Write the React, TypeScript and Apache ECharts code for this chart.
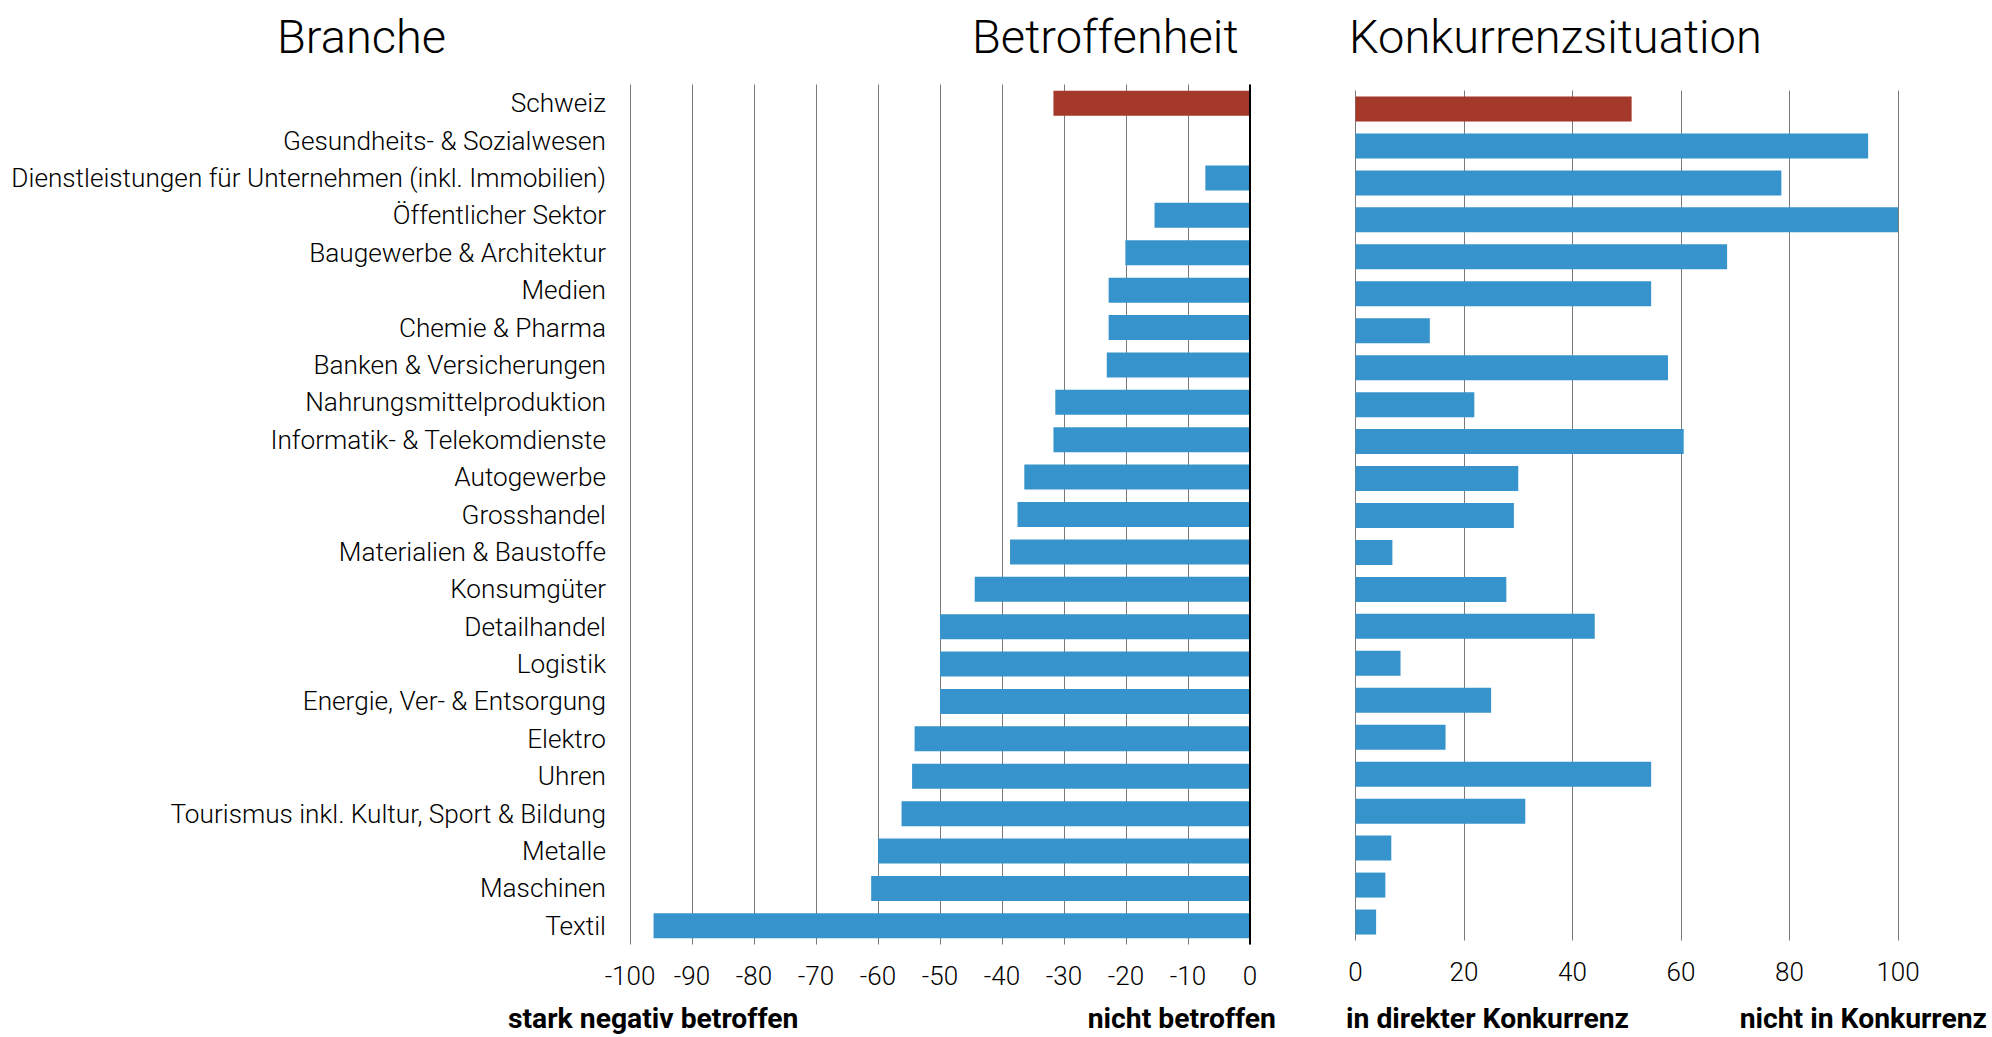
import React, { useEffect, useRef } from "react";
import * as echarts from "echarts";

const categories = [
  "Schweiz",
  "Gesundheits- & Sozialwesen",
  "Dienstleistungen für Unternehmen (inkl. Immobilien)",
  "Öffentlicher Sektor",
  "Baugewerbe & Architektur",
  "Medien",
  "Chemie & Pharma",
  "Banken & Versicherungen",
  "Nahrungsmittelproduktion",
  "Informatik- & Telekomdienste",
  "Autogewerbe",
  "Grosshandel",
  "Materialien & Baustoffe",
  "Konsumgüter",
  "Detailhandel",
  "Logistik",
  "Energie, Ver- & Entsorgung",
  "Elektro",
  "Uhren",
  "Tourismus inkl. Kultur, Sport & Bildung",
  "Metalle",
  "Maschinen",
  "Textil",
];

const betroffenheit = [
  -31.7, 0, -7.2, -15.4, -20.1, -22.8, -22.8, -23.1, -31.4, -31.7, -36.4, -37.5,
  -38.7, -44.4, -50, -50, -50, -54.1, -54.5, -56.2, -60.0, -61.1, -96.2,
];

const konkurrenz = [
  50.9, 94.5, 78.5, 100, 68.5, 54.5, 13.7, 57.6, 21.9, 60.5, 30.0, 29.2, 6.8,
  27.8, 44.1, 8.3, 25.0, 16.6, 54.5, 31.3, 6.6, 5.5, 3.8,
];

const highlighted = ["Schweiz"];

const titles = ["Branche", "Betroffenheit", "Konkurrenzsituation"];
const footLabels = [
  "stark negativ betroffen",
  "nicht betroffen",
  "in direkter Konkurrenz",
  "nicht in Konkurrenz",
];

const BLUE = "#3793cb";
const RED = "#a43829";
const GRIDLINE = "#7a7a7a";
const FONT = "Roboto";

function buildData(values: number[]) {
  return values.map((v, i) => ({
    value: v,
    itemStyle: { color: highlighted.includes(categories[i]) ? RED : BLUE },
  }));
}

export default function App() {
  const ref = useRef<HTMLDivElement>(null);

  useEffect(() => {
    if (!ref.current) return;
    const chart = echarts.init(ref.current, undefined, { renderer: "svg" });

    const titleStyle = { fontSize: 47, fontFamily: FONT, fill: "#000", fontWeight: 300 as any };
    const footStyle = { fontSize: 28.3, fontFamily: FONT, fill: "#000", fontWeight: "bold" as any };
    const tickLabel = { fontSize: 26, color: "#000", margin: 18, fontFamily: FONT, fontWeight: 300 as any };

    chart.setOption({
      animation: false,
      backgroundColor: "#fff",
      textStyle: { fontFamily: FONT },
      grid: [
        { left: 630, width: 620, top: 84.5, height: 860, containLabel: false, outerBoundsMode: "none" },
        { left: 1355.5, width: 542.5, top: 90.5, height: 850, containLabel: false, outerBoundsMode: "none" },
      ],
      xAxis: [
        {
          type: "value",
          gridIndex: 0,
          min: -100,
          max: 0,
          interval: 10,
          axisLine: { show: false },
          axisTick: { show: false },
          splitLine: { show: true, lineStyle: { color: GRIDLINE, width: 1 } },
          axisLabel: tickLabel,
        },
        {
          type: "value",
          gridIndex: 1,
          min: 0,
          max: 100,
          interval: 20,
          axisLine: { show: false },
          axisTick: { show: false },
          splitLine: { show: true, lineStyle: { color: GRIDLINE, width: 1 } },
          axisLabel: tickLabel,
        },
      ],
      yAxis: [
        {
          type: "category",
          gridIndex: 0,
          data: categories,
          inverse: true,
          axisLine: { show: false },
          axisTick: { show: false },
          splitLine: { show: false },
          axisLabel: { fontSize: 26.2, color: "#000", margin: 24, fontFamily: FONT, fontWeight: 300 as any },
        },
        {
          type: "category",
          gridIndex: 1,
          data: categories,
          inverse: true,
          axisLine: { show: false },
          axisTick: { show: false },
          splitLine: { show: false },
          axisLabel: { show: false },
        },
      ],
      series: [
        {
          type: "bar",
          xAxisIndex: 0,
          yAxisIndex: 0,
          data: buildData(betroffenheit),
          barWidth: 25,
          markLine: {
            silent: true,
            symbol: ["none", "none"],
            label: { show: false },
            lineStyle: { color: "#000", width: 2, type: "solid" },
            data: [{ xAxis: 0 }],
          },
        },
        {
          type: "bar",
          xAxisIndex: 1,
          yAxisIndex: 1,
          data: buildData(konkurrenz),
          barWidth: 25,
        },
      ],
      graphic: [
        { type: "text", x: 277, y: 36, style: { ...titleStyle, text: titles[0], align: "left", verticalAlign: "middle" } },
        { type: "text", x: 972, y: 36, style: { ...titleStyle, text: titles[1], align: "left", verticalAlign: "middle" } },
        { type: "text", x: 1349, y: 36, style: { ...titleStyle, text: titles[2], align: "left", verticalAlign: "middle" } },
        { type: "text", x: 508, y: 1018, style: { ...footStyle, text: footLabels[0], align: "left", verticalAlign: "middle" } },
        { type: "text", x: 1276, y: 1018, style: { ...footStyle, text: footLabels[1], align: "right", verticalAlign: "middle" } },
        { type: "text", x: 1346, y: 1018, style: { ...footStyle, text: footLabels[2], align: "left", verticalAlign: "middle" } },
        { type: "text", x: 1987, y: 1018, style: { ...footStyle, text: footLabels[3], align: "right", verticalAlign: "middle" } },
      ],
    });

    return () => chart.dispose();
  }, []);

  return (
    <div
      ref={ref}
      style={{ position: "fixed", left: 0, top: 0, width: "1992px", height: "1037px" }}
    />
  );
}
